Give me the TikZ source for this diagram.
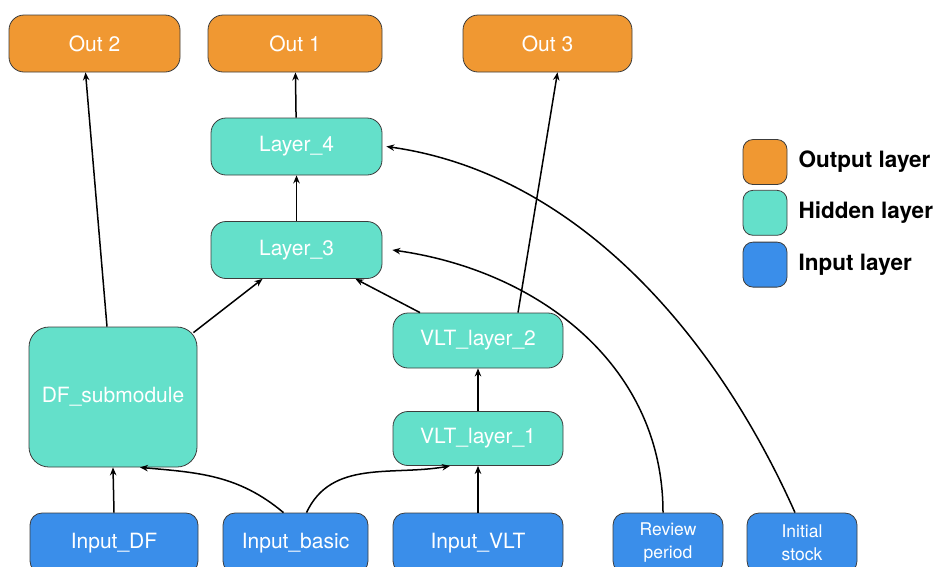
\documentclass[tikz,border=0pt]{standalone}
\usepackage{fontspec}
\setmainfont{TeX Gyre Heros}
\usepackage{tikz}
\usetikzlibrary{positioning,arrows.meta}
\definecolor{outc}{RGB}{240,152,50}
\definecolor{hidc}{RGB}{100,224,202}
\definecolor{inc}{RGB}{58,142,234}
\definecolor{rim}{RGB}{60,60,60}

\begin{document}
\begin{tikzpicture}[x=1pt,y=-1pt,node distance=10pt,>={Stealth[length=8pt,width=6.5pt]},
  box/.style={draw=rim,line width=0.8pt,rounded corners=15pt,text=white,
    font=\fontsize{21}{24}\selectfont,minimum height=57pt,inner sep=0pt,align=center},
  outbox/.style={box,fill=outc},
  hidbox/.style={box,fill=hidc},
  inbox/.style={box,fill=inc,minimum height=60pt,rounded corners=12pt},
  key/.style={draw=rim,line width=0.8pt,rounded corners=10pt,minimum width=44pt,minimum height=45pt,inner sep=0pt},
  keytext/.style={font=\bfseries\fontsize{22.5}{25}\selectfont,inner sep=0pt,right=11pt of #1},
  link/.style={->,line width=1.5pt}]
  \useasboundingbox (0,0) rectangle (941,566);
  % outputs
  \node(out2)[outbox,minimum width=171pt] at (94.5,43.5) {Out 2};
  \node(out1)[outbox,minimum width=174pt] at (295,43.5) {Out 1};
  \node(out3)[outbox,minimum width=169pt] at (547.5,43.5) {Out 3};
  % hidden
  \node(l4)[hidbox,minimum width=171pt] at (296.5,146.5) {Layer\_4};
  \node(l3)[hidbox,minimum width=171pt] at (296.5,250) {Layer\_3};
  \node(df)[hidbox,minimum width=168pt,minimum height=140pt,rounded corners=20pt] at (113,397) {DF\_submodule};
  \node(vlt2)[hidbox,minimum width=170pt,minimum height=55pt] at (478,340.5) {VLT\_layer\_2};
  \node(vlt1)[hidbox,minimum width=170pt,minimum height=54pt] at (478,438.5) {VLT\_layer\_1};
  % inputs
  \node(idf)[inbox,minimum width=168pt] at (114,543) {Input\_DF};
  \node(ibasic)[inbox,minimum width=145pt] at (295.5,543) {Input\_basic};
  \node(ivlt)[inbox,minimum width=170pt] at (478,543) {Input\_VLT};
  \node(irev)[inbox,minimum width=110pt,font=\fontsize{17.5}{23}\selectfont] at (668,543) {Review\\period};
  \node(istock)[inbox,minimum width=110pt,font=\fontsize{17.5}{23}\selectfont] at (802,543) {Initial\\stock};
  % legend
  \node(keyout)[key,fill=outc] at (765,162) {};
  \node(keyhid)[key,fill=hidc,below=5pt of keyout] {};
  \node(keyin)[key,fill=inc,below=6pt of keyhid] {};
  \node(txtout)[keytext=keyout] {Output layer};
  \node(txthid)[keytext=keyhid] {Hidden layer};
  \node(txtin)[keytext=keyin] {Input layer};
  % connections
  \draw[link] (l4) -- (out1);
  \draw[link] (l3) -- (l4);
  \draw[link] (vlt1) -- (vlt2);
  \draw[link] (ivlt) -- (vlt1);
  \draw[link] (idf.north) -- (df.south);
  \draw[link] ([xshift=-6pt]df.north) -- ([xshift=-9pt]out2.south);
  \draw[link] ([shift={(-4,6)}]df.north east) -- ([xshift=-34pt]l3.south);
  \draw[link] ([xshift=-58pt]vlt2.north) -- ([xshift=59pt]l3.south);
  \draw[link] ([xshift=40pt]vlt2.north) -- ([xshift=10pt]out3.south);
  \draw[link] ([xshift=-12pt]ibasic.north) to[out=140,in=-5] ([xshift=27pt]df.south);
  \draw[link] ([xshift=11pt]ibasic.north) to[out=65,in=190] ([xshift=-28pt]vlt1.south);
  \draw[link] ([xshift=-5pt]irev.north) to[out=90,in=-8] ([xshift=10pt]l3.east);
  \draw[link] ([xshift=-7pt]istock.north) to[out=114,in=-8,looseness=0.9] ([xshift=4pt]l4.east);
\end{tikzpicture}
\end{document}
